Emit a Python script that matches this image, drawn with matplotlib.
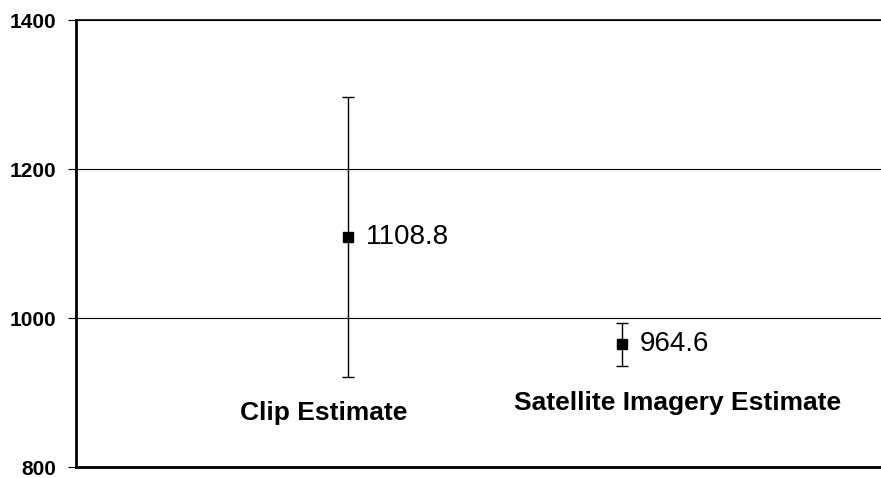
import matplotlib
matplotlib.use("Agg")
import matplotlib.pyplot as plt

plt.rcParams['font.family'] = ['Liberation Sans', 'DejaVu Sans']

# Mean estimates with their error margins
categories = ["Clip Estimate", "Satellite Imagery Estimate"]
x_pos = [1, 2]
means = [1108.8, 964.6]
errors = [188, 28.5]
y_ticks = [800, 1000, 1200, 1400]

fig = plt.figure(figsize=(8.81, 4.78), dpi=100)
ax = fig.add_axes([0.0863, 0.023, 0.9137, 0.935])

ax.errorbar(x_pos, means, yerr=errors, fmt='s', color='black',
            markersize=7.5, elinewidth=1, capsize=4.2, capthick=1)

# value labels beside each marker
for x, m in zip(x_pos, means):
    ax.annotate(f"{m:.1f}", (x, m), xytext=(13, 0), textcoords='offset points',
                ha='left', va='center', fontsize=20)

# category labels sit inside the plot area
ax.text(0.91, 872, categories[0], ha='center', va='center',
        fontsize=19, fontweight='bold')
ax.text(2.203, 885.5, categories[1], ha='center', va='center',
        fontsize=19, fontweight='bold')

ax.set_xlim(0.006, 2.946)
ax.set_ylim(800, 1400)
ax.set_yticks(y_ticks)
ax.set_yticklabels([str(t) for t in y_ticks], fontsize=15, fontweight='bold')
ax.set_xticks([])
ax.tick_params(axis='y', direction='out', length=5.8, width=0.8, pad=8.4)

ax.yaxis.grid(True, color='black', linewidth=0.8)
ax.set_axisbelow(True)
ax.spines['right'].set_visible(False)
ax.spines['top'].set_linewidth(1.2)
ax.spines['left'].set_linewidth(2)
ax.spines['bottom'].set_linewidth(2)

fig.savefig("out.png", dpi=100)
